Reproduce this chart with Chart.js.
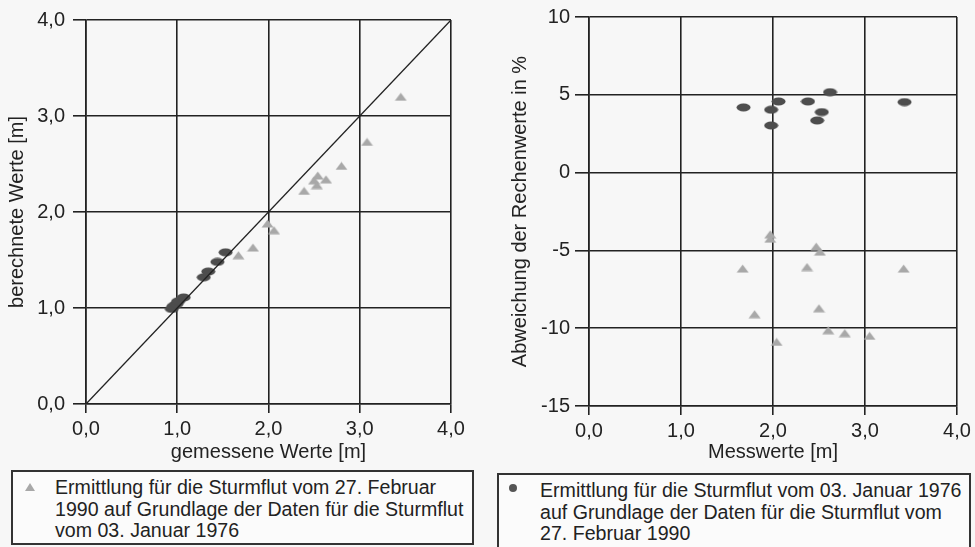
<!DOCTYPE html>
<html lang="de">
<head>
<meta charset="utf-8">
<title>Sturmflut – gemessene und berechnete Werte</title>
<script src="https://cdn.jsdelivr.net/npm/chart.js@4"></script>
<style>
  html, body { margin: 0; padding: 0; }
  body {
    width: 975px; height: 547px; overflow: hidden; position: relative;
    background: #f7f7f7;
    font-family: "Liberation Sans", Arial, sans-serif;
    color: #222;
  }
  .chart { position: absolute; top: 0; }
  #leftWrap  { left: 0;   width: 480px; height: 465px; }
  #rightWrap { left: 480px; width: 495px; height: 465px; }
  .legend-box {
    position: absolute;
    border: 2px solid #333;
    box-sizing: border-box;
    font-size: 19.6px;
    line-height: 21.5px;
    white-space: nowrap;
    background: #fbfbfb;
  }
  #legLeft  { left: 11px;  top: 470px; width: 463px; height: 75px; }
  #legRight { left: 497px; top: 473px; width: 474px; height: 80px; }
  .legend-box .txt { position: absolute; top: 5px; }
  #legLeft .txt  { left: 42px; }
  #legRight .txt { left: 41px; }
  .mk-tri {
    position: absolute; left: 12px; top: 11px; width: 0; height: 0;
    border-left: 5px solid transparent; border-right: 5px solid transparent;
    border-bottom: 8px solid #a8a8a8;
  }
  .mk-dot {
    position: absolute; left: 10px; top: 9px; width: 8px; height: 8px;
    border-radius: 50%; background: #555;
  }
</style>
</head>
<body>

<div class="chart" id="leftWrap"><canvas id="leftChart" width="480" height="465"></canvas></div>
<div class="chart" id="rightWrap"><canvas id="rightChart" width="495" height="465"></canvas></div>

<div class="legend-box" id="legLeft">
  <div class="mk-tri"></div>
  <div class="txt">Ermittlung für die Sturmflut vom 27. Februar<br>1990 auf Grundlage der Daten für die Sturmflut<br>vom 03. Januar 1976</div>
</div>
<div class="legend-box" id="legRight">
  <div class="mk-dot"></div>
  <div class="txt">Ermittlung für die Sturmflut vom 03. Januar 1976<br>auf Grundlage der Daten für die Sturmflut vom<br>27. Februar 1990</div>
</div>

<script>
// ── Data ────────────────────────────────────────────────────────────────────
// left: gemessene vs. berechnete Werte [m]
const LEFT_TRI_X = [1.67, 1.83, 1.99, 2.06, 2.39, 2.50, 2.53, 2.54, 2.63, 2.80, 3.08, 3.45];
const LEFT_TRI_Y = [1.55, 1.63, 1.88, 1.81, 2.22, 2.33, 2.28, 2.38, 2.34, 2.48, 2.73, 3.20];
const LEFT_DOT_X = [0.94, 0.96, 0.99, 1.01, 1.07, 1.29, 1.34, 1.44, 1.53];
const LEFT_DOT_Y = [0.99, 1.02, 1.04, 1.07, 1.11, 1.32, 1.38, 1.48, 1.58];
const DIAG_X = [0, 4];
const DIAG_Y = [0, 4];

// right: Messwerte [m] vs. Abweichung der Rechenwerte in %
const RIGHT_TRI_X = [1.67, 1.80, 1.97, 1.97, 2.04, 2.37, 2.47, 2.50, 2.51, 2.60, 2.78, 3.05, 3.42];
const RIGHT_TRI_Y = [-6.17, -9.10, -3.97, -4.25, -10.88, -6.07, -4.76, -8.72, -5.08, -10.13, -10.32, -10.49, -6.17];
const RIGHT_DOT_X = [1.68, 1.98, 1.98, 2.06, 2.38, 2.48, 2.53, 2.62, 3.43];
const RIGHT_DOT_Y = [4.19, 4.04, 3.03, 4.57, 4.57, 3.35, 3.89, 5.17, 4.53];

const LEFT_X_TICKS  = [0, 1, 2, 3, 4];
const LEFT_Y_TICKS  = [0, 1, 2, 3, 4];
const RIGHT_X_TICKS = [0, 1, 2, 3, 4];
const RIGHT_Y_TICKS = [-15, -10, -5, 0, 5, 10];

const FONT = "'Liberation Sans', Arial, sans-serif";
const INK = '#222';

const pts = (xs, ys) => xs.map((x, i) => ({ x, y: ys[i] }));
const comma = v => v.toFixed(1).replace('.', ',');

// ── Marker images (flat triangle, ellipse like the scan) ────────────────────
function triMarker() {
  const c = document.createElement('canvas');
  c.width = 13; c.height = 9;
  const g = c.getContext('2d');
  g.fillStyle = '#a8a8a8';
  g.beginPath(); g.moveTo(6.5, 0.5); g.lineTo(12.5, 8.5); g.lineTo(0.5, 8.5); g.closePath(); g.fill();
  return c;
}
function dotMarker() {
  const c = document.createElement('canvas');
  c.width = 15; c.height = 9;
  const g = c.getContext('2d');
  g.fillStyle = '#4d4d4d';
  g.beginPath(); g.ellipse(7.5, 4.5, 7, 4, 0, 0, Math.PI * 2); g.fill();
  return c;
}
const TRI = triMarker();
const DOT = dotMarker();

// ── Shared axis builder ─────────────────────────────────────────────────────
function axis(opts) {
  return {
    type: 'linear',
    min: opts.min, max: opts.max,
    afterBuildTicks: s => { s.ticks = opts.ticks.map(v => ({ value: v })); },
    afterFit: s => { if (opts.width) s.width = opts.width; if (opts.height) s.height = opts.height; },
    grid: { color: INK, lineWidth: 1.6, tickLength: opts.tickLength, drawTicks: true },
    border: { color: INK, width: 1.6 },
    ticks: {
      color: INK, padding: opts.pad,
      font: { family: FONT, size: 20 },
      callback: opts.fmt,
      maxRotation: 0
    },
    title: {
      display: true, text: opts.title, color: INK,
      font: { family: FONT, size: 20 },
      padding: opts.titlePad
    }
  };
}

function baseOptions(x, y, padding) {
  return {
    responsive: false,
    animation: false,
    layout: { padding },
    plugins: { legend: { display: false }, tooltip: { enabled: false } },
    scales: { x, y }
  };
}

// ── Left chart ──────────────────────────────────────────────────────────────
new Chart(document.getElementById('leftChart'), {
  type: 'scatter',
  data: {
    datasets: [
      { data: pts(DIAG_X, DIAG_Y), showLine: true, borderColor: INK, borderWidth: 1.3, pointRadius: 0 },
      { data: pts(LEFT_TRI_X, LEFT_TRI_Y), pointStyle: TRI },
      { data: pts(LEFT_DOT_X, LEFT_DOT_Y), pointStyle: DOT }
    ]
  },
  options: baseOptions(
    axis({ min: 0, max: 4, ticks: LEFT_X_TICKS, fmt: comma, tickLength: 9, pad: 4, height: 61,
           title: 'gemessene Werte [m]', titlePad: { top: 0, bottom: 1 } }),
    axis({ min: 0, max: 4, ticks: LEFT_Y_TICKS, fmt: comma, tickLength: 13, pad: 8, width: 86,
           title: 'berechnete Werte [m]', titlePad: { top: 5, bottom: 0 } }),
    { left: 0, right: 29, top: 15, bottom: 0 }
  )
});

// ── Right chart ─────────────────────────────────────────────────────────────
new Chart(document.getElementById('rightChart'), {
  type: 'scatter',
  data: {
    datasets: [
      { data: pts(RIGHT_TRI_X, RIGHT_TRI_Y), pointStyle: TRI },
      { data: pts(RIGHT_DOT_X, RIGHT_DOT_Y), pointStyle: DOT }
    ]
  },
  options: baseOptions(
    axis({ min: 0, max: 4, ticks: RIGHT_X_TICKS, fmt: comma, tickLength: 9, pad: 4, height: 59,
           title: 'Messwerte [m]', titlePad: { top: 0, bottom: 1 } }),
    axis({ min: -15, max: 10, ticks: RIGHT_Y_TICKS, fmt: v => String(v), tickLength: 14, pad: 5, width: 109,
           title: 'Abweichung der Rechenwerte in %', titlePad: { top: 28, bottom: 0 } }),
    { left: 0, right: 18, top: 17, bottom: 0 }
  )
});
</script>
</body>
</html>
